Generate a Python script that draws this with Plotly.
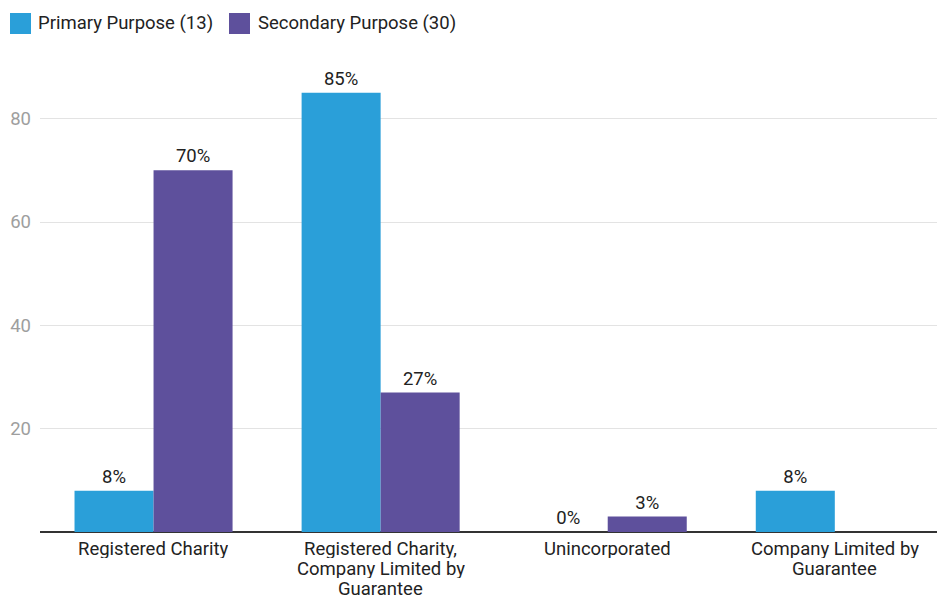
import plotly.graph_objects as go

categories = [
    "Registered Charity",
    "Registered Charity,<br>Company Limited by<br>Guarantee",
    "Unincorporated",
    "Company Limited by<br>Guarantee",
]
primary = [8, 85, 0, 8]
secondary = [70, 27, 3, 0]
tick_vals = [20, 40, 60, 80]
series_names = ["Primary Purpose (13)", "Secondary Purpose (30)"]
series_colors = ["#2A9FD9", "#5E509C"]

FONT = "Roboto"
TXT = 18.5
LINE_H = 20

fig = go.Figure()
for name, vals, color in zip(series_names, [primary, secondary], series_colors):
    fig.add_trace(go.Bar(
        name=name, x=categories, y=vals, marker_color=color,
        marker_line_width=0,
        text=[f"{v}%" if (v > 0 or name.startswith("Primary")) else "" for v in vals],
        textposition="outside",
        textfont=dict(size=TXT, color="#222222"), cliponaxis=False,
        showlegend=False,
    ))

# Legend drawn as square swatches with labels above the plot area
plot_l, plot_w, plot_b, plot_h = 40, 897, 532, 465
def px_x(px):
    return (px - plot_l) / plot_w
def px_y(px):
    return (plot_b - px) / plot_h

legend_items = [(10, 36), (229, 256)]
for (sx, tx), name, color in zip(legend_items, series_names, series_colors):
    fig.add_shape(type="rect", xref="paper", yref="paper",
                  x0=px_x(sx), x1=px_x(sx + 21), y0=px_y(34), y1=px_y(13),
                  fillcolor=color, line_width=0)
    fig.add_annotation(xref="paper", yref="paper", x=px_x(tx), y=px_y(22.5),
                       xanchor="left", yanchor="middle", text=name,
                       showarrow=False,
                       font=dict(family=FONT, size=TXT, color="#222222"))

# Category labels under the axis, one annotation per line for tight spacing
for cat in categories:
    for i, line in enumerate(cat.split("<br>")):
        fig.add_annotation(x=cat, y=0, xref="x", yref="y", text=line,
                           showarrow=False, xanchor="center", yanchor="middle",
                           yshift=-(17 + LINE_H * i), height=18, borderpad=0,
                           font=dict(family=FONT, size=TXT, color="#222222"))

fig.update_layout(
    width=937, height=599,
    margin=dict(l=plot_l, r=0, t=67, b=67, autoexpand=False),
    paper_bgcolor="white", plot_bgcolor="white",
    font=dict(family=FONT, size=TXT, color="#222222"),
    barmode="group", bargap=0.304, bargroupgap=0,
    showlegend=False,
    xaxis=dict(
        range=[-0.5, 3.45], automargin=False,
        showgrid=False, ticks="", showticklabels=False, showline=False,
    ),
    yaxis=dict(
        range=[0, 90], tickvals=tick_vals, showgrid=True, automargin=False,
        gridcolor="#E3E3E3", gridwidth=1,
        tickfont=dict(size=TXT, color="#9E9E9E"),
        zeroline=True, zerolinecolor="#333333", zerolinewidth=1.5,
        ticks="", showline=False, ticklabelstandoff=8,
    ),
)

fig.write_html("out.html")
